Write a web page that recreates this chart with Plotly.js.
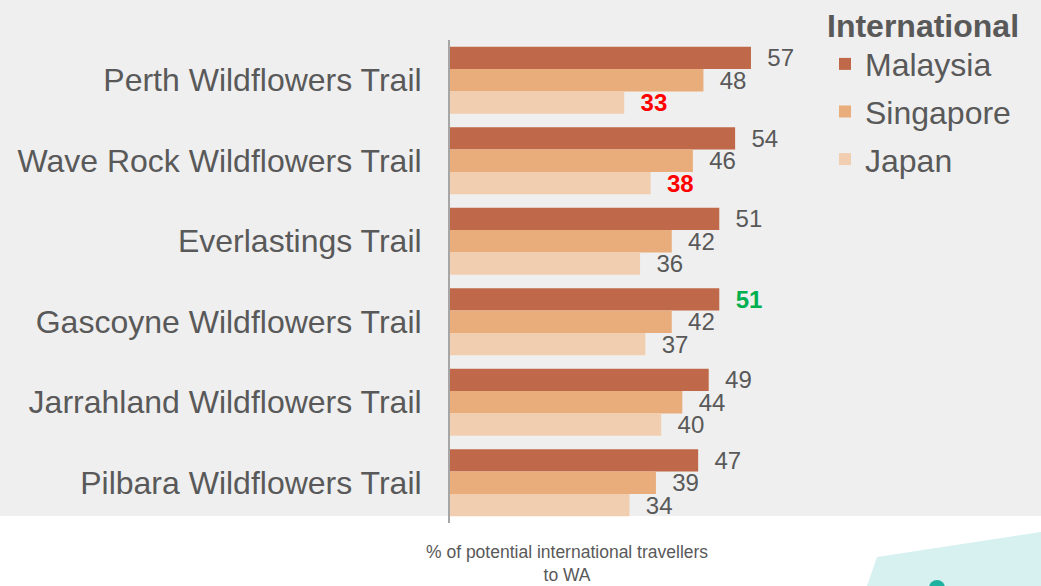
<!DOCTYPE html>
<html>
<head>
<meta charset="utf-8">
<script src="https://cdn.plot.ly/plotly-3.0.1.min.js"></script>
<style>html,body{margin:0;padding:0;background:#fff;}#chart{width:1041px;height:586px;}</style>
</head>
<body>
<div id="chart"></div>
<script>
// ---- data ----
const trails = [
  "Perth Wildflowers Trail",
  "Wave Rock Wildflowers Trail",
  "Everlastings Trail",
  "Gascoyne Wildflowers Trail",
  "Jarrahland Wildflowers Trail",
  "Pilbara Wildflowers Trail"
];
const seriesNames = ["Malaysia", "Singapore", "Japan"];
const malaysia  = [57, 54, 51, 51, 49, 47];
const singapore = [48, 46, 42, 42, 44, 39];
const japan     = [33, 38, 36, 37, 40, 34];
const legendTitle = "International";
const axisTitle = "% of potential international travellers<br>to WA";

// ---- styles ----
const barColors = ["#C0694A", "#E9AD7B", "#F2CEB0"];
const textGray = "#595959";
const highlights = [
  { series: "Japan", trail: "Perth Wildflowers Trail", color: "#FF0000" },
  { series: "Japan", trail: "Wave Rock Wildflowers Trail", color: "#FF0000" },
  { series: "Malaysia", trail: "Gascoyne Wildflowers Trail", color: "#00B050" }
];

const W = 1041, H = 586;
const M = { l: 450, r: 0, t: 40, b: 63, autoexpand: false };
const plotW = W - M.l - M.r, plotH = H - M.t - M.b;
const pxPerUnit = 5.28;
const font = '"Liberation Sans", Arial, sans-serif';
const px2x = p => (p - M.l) / plotW;
const py2y = p => (H - M.b - p) / plotH;

const allValues = [malaysia, singapore, japan];
const traces = seriesNames.map((name, i) => {
  const vals = allValues[i];
  const texts = vals.map((v, j) => {
    const h = highlights.find(o => o.series === name && o.trail === trails[j]);
    return "\u00a0\u00a0" + (h ? "<b>" + v + "</b>" : String(v));
  });
  const colors = vals.map((v, j) => {
    const h = highlights.find(o => o.series === name && o.trail === trails[j]);
    return h ? h.color : textGray;
  });
  return {
    type: "bar",
    orientation: "h",
    name: name,
    legendgroup: name,
    y: trails,
    x: vals,
    text: texts,
    textposition: "outside",
    textfont: { family: font, size: 24, color: colors },
    constraintext: "none",
    cliponaxis: false,
    marker: { color: barColors[i], line: { width: 0 } },
    hoverinfo: "x+name"
  };
});

const layout = {
  width: W, height: H,
  margin: M,
  paper_bgcolor: "#FFFFFF",
  plot_bgcolor: "rgba(0,0,0,0)",
  barmode: "group",
  bargap: 0.168,
  bargroupgap: 0,
  font: { family: font, color: textGray },
  showlegend: true,
  legend: {
    x: px2x(825), xanchor: "left",
    y: py2y(-5), yanchor: "top",
    bgcolor: "rgba(0,0,0,0)",
    font: { family: font, size: 32, color: textGray },
    title: { text: "<b>" + legendTitle + "</b>", font: { family: font, size: 32, color: textGray }, side: "top" },
    traceorder: "grouped",
    tracegroupgap: 3
  },
  xaxis: {
    range: [0, plotW / pxPerUnit],
    showticklabels: false, showgrid: false, zeroline: false, showline: false, ticks: "",
    fixedrange: true
  },
  yaxis: {
    autorange: "reversed",
    showgrid: false, zeroline: false,
    showline: true, linecolor: "#A6A6A6", linewidth: 2,
    ticks: "", ticklabelstandoff: 20,
    tickfont: { family: font, size: 32, color: textGray },
    fixedrange: true
  },
  annotations: [{
    xref: "paper", yref: "paper",
    x: px2x(567), y: py2y(563), xanchor: "center", yanchor: "middle",
    text: axisTitle, showarrow: false, align: "center",
    font: { family: font, size: 17.5, color: textGray }
  }],
  shapes: [
    { type: "rect", xref: "paper", yref: "paper", layer: "below",
      x0: px2x(0), x1: px2x(W), y0: py2y(516), y1: py2y(0),
      fillcolor: "#EFEFEF", line: { width: 0 } },
    { type: "path", xref: "paper", yref: "paper", layer: "below",
      path: "M " + px2x(877) + "," + py2y(557) + " L " + px2x(1041) + "," + py2y(532) +
            " L " + px2x(1041) + "," + py2y(586) + " L " + px2x(867) + "," + py2y(586) + " Z",
      fillcolor: "#D6F1EF", line: { width: 0 } },
    { type: "circle", xref: "paper", yref: "paper", layer: "below",
      x0: px2x(929), x1: px2x(945), y0: py2y(596), y1: py2y(580),
      fillcolor: "#20B2A0", line: { width: 0 } }
  ]
};

Plotly.newPlot("chart", traces, layout, { displayModeBar: false, staticPlot: false });
</script>
</body>
</html>
